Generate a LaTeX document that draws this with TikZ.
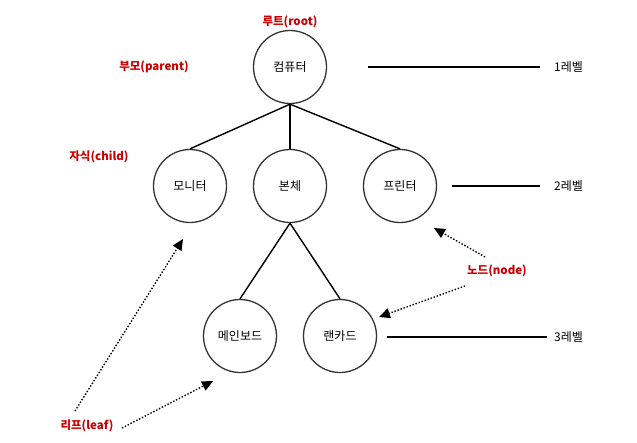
\documentclass[tikz,border=0pt]{standalone}
\usepackage{fontspec}
\setmainfont{Noto Sans CJK KR}
\usepackage{tikz}
\usetikzlibrary{arrows.meta,positioning}
\definecolor{treered}{RGB}{204,0,0}
\definecolor{treegray}{RGB}{51,51,51}

\begin{document}
\begin{tikzpicture}[x=1pt,y=-1pt,font=\fontsize{12}{14}\selectfont,
  treenode/.style={circle,draw=treegray,line width=1.3pt,minimum size=73pt,inner sep=0pt},
  branch/.style={line width=1.4pt},
  termlabel/.style={text=treered,font=\fontsize{11.5}{13}\selectfont\bfseries},
  pointer/.style={dash pattern=on 1.4pt off 1.8pt,line width=1.4pt,-{Triangle[length=11pt,width=10pt]}}]
\useasboundingbox (0,0) rectangle (637,442);
% tree
\node[treenode] (pc) at (290,67) {컴퓨터};
\foreach \n/\x/\t in {mon/190/모니터,body/290/본체,prn/400/프린터}{
  \node[treenode] (\n) at (\x,186) {\t};
  \draw[branch] (pc.south) -- (\n.north);}
\foreach \n/\x/\t in {mb/240/메인보드,lan/340/랜카드}{
  \node[treenode] (\n) at (\x,336) {\t};
  \draw[branch] (body.south) -- (\n.north);}
% levels
\foreach \l/\a/\b/\y in {1/368/540/67,2/452/540/186,3/387/547/337}{
  \coordinate (lv\l from) at (\a,\y);
  \coordinate (lv\l to) at (\b,\y);
  \draw[branch] (lv\l from) -- (lv\l to);
  \node[anchor=west,inner sep=0pt] (lv\l) at (554,\y) {\l{}레벨};}
% terms
\node[termlabel] (root) at (290,22) {루트(root)};
\node[termlabel] (parent) at (154,67) {부모(parent)};
\node[termlabel] (child) at (99,157) {자식(child)};
\node[termlabel] (term) at (497,271) {노드(node)};
\node[termlabel] (leaf) at (87,426) {리프(leaf)};
% pointers
\coordinate (leafa) at (75,411);
\coordinate (leafb) at (122,428);
\coordinate (terma) at (485,257);
\coordinate (termb) at (465,286);
\coordinate (mona) at (183,239);
\coordinate (mba) at (213,381);
\coordinate (prna) at (434,228);
\coordinate (lana) at (379,317);
\draw[pointer] (leafa) -- (mona);
\draw[pointer] (leafb) -- (mba);
\draw[pointer] (terma) -- (prna);
\draw[pointer] (termb) -- (lana);
\end{tikzpicture}
\end{document}
